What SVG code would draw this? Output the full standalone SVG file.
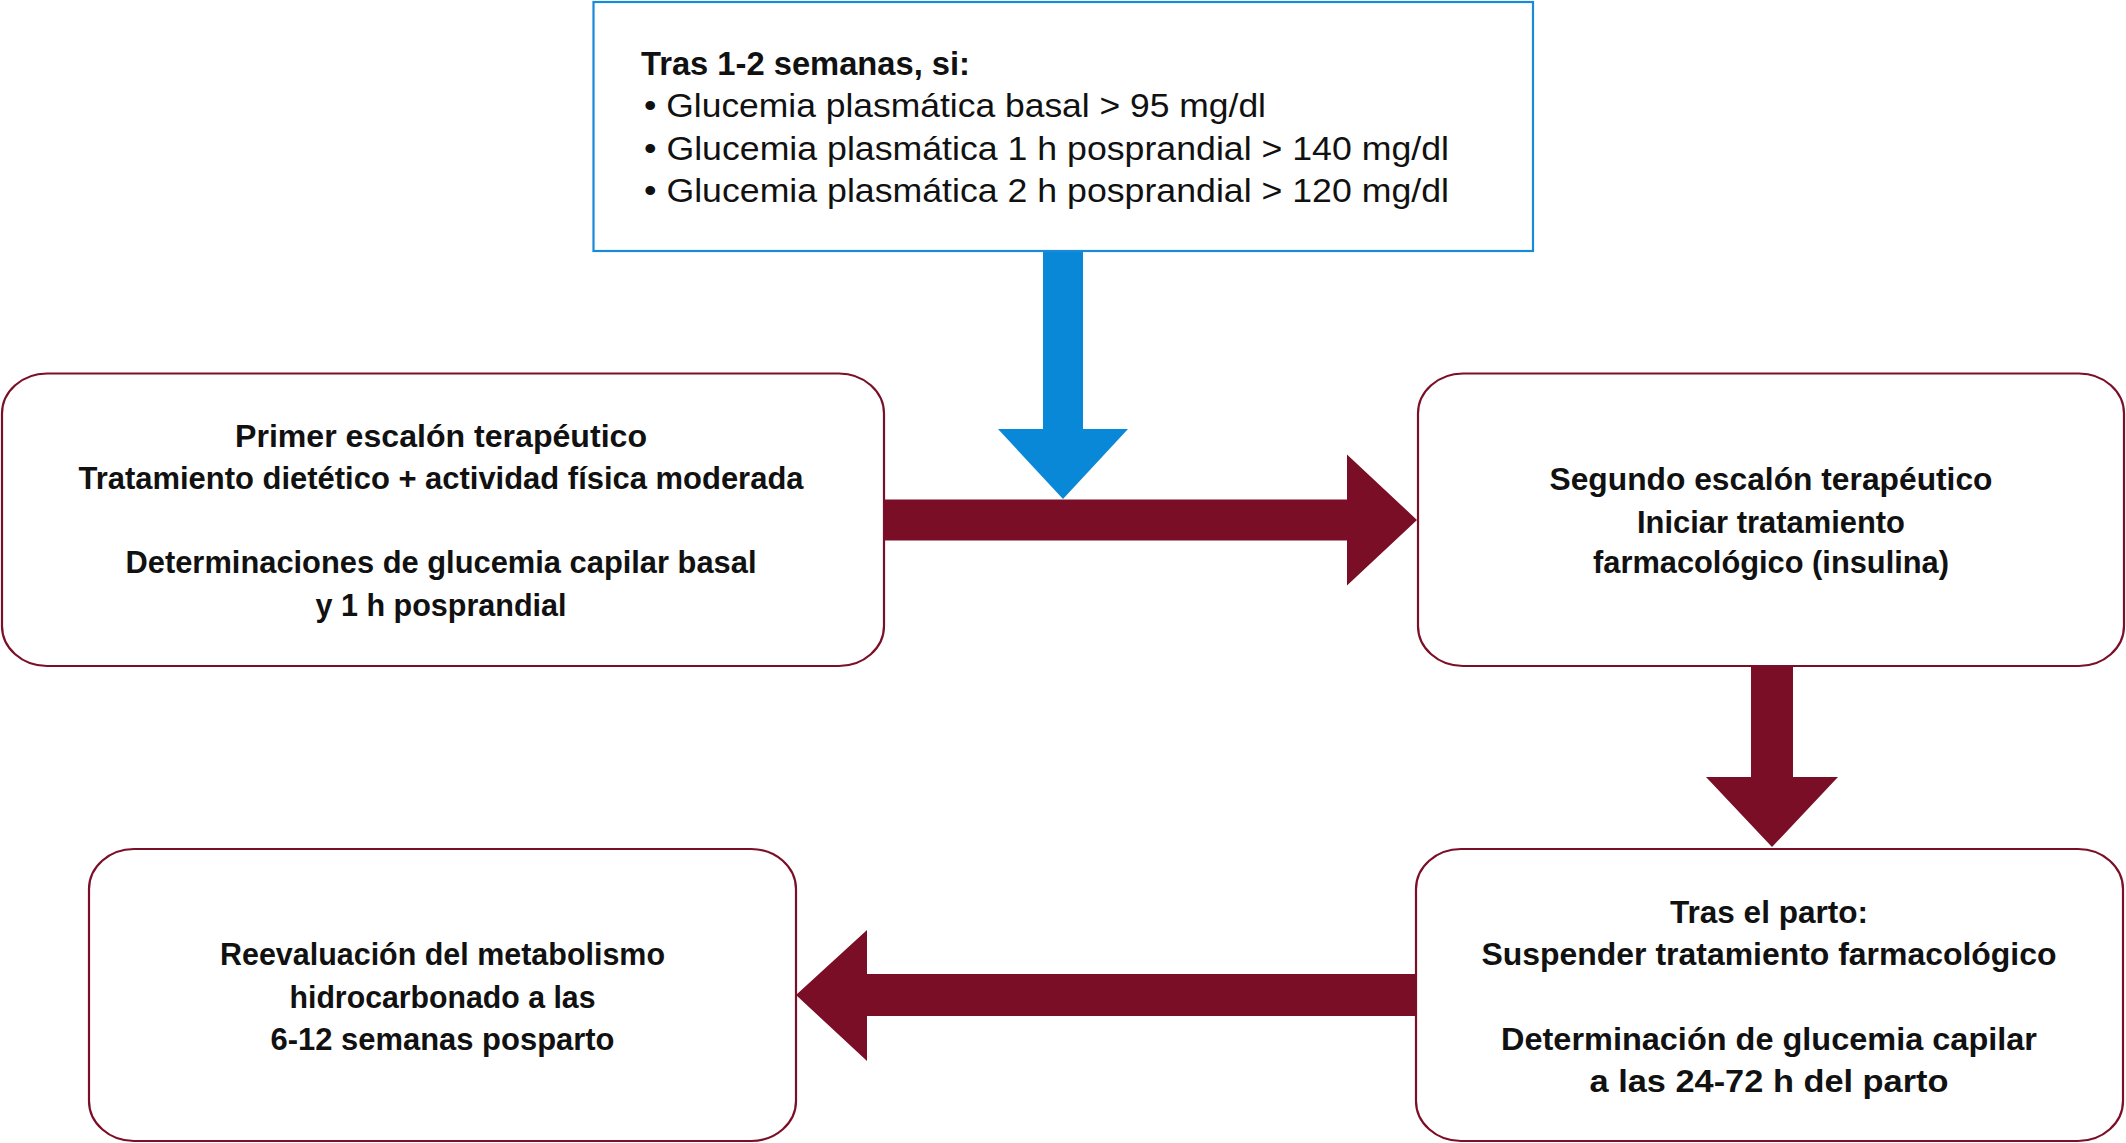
<svg xmlns="http://www.w3.org/2000/svg" width="2126" height="1143" viewBox="0 0 2126 1143">
<style>
.bg{fill:#ffffff}
.node{fill:#ffffff;stroke:#7b0f27;stroke-width:2.2}
.topbox{fill:#ffffff;stroke:#1a8ad8;stroke-width:2.2}
.t{font-family:"Liberation Sans","Arial",sans-serif;font-size:32px;font-weight:bold;fill:#111111;text-anchor:middle}
.tl{font-family:"Liberation Sans","Arial",sans-serif;font-size:33px;fill:#111111}
.tb{font-family:"Liberation Sans","Arial",sans-serif;font-size:33px;font-weight:bold;fill:#111111}
.red{fill:#7a0e26}
.blue{fill:#0a88d8}
</style>
<rect class="bg" x="0" y="0" width="2126" height="1143"/>

<g id="connectors">
  <polygon class="blue" points="1043,251 1083,251 1083,429 1128,429 1063,499 998,429 1043,429"/>
  <polygon class="red" points="884,499.5 1347,499.5 1347,454.5 1417,520 1347,585.5 1347,540.5 884,540.5"/>
  <polygon class="red" points="1751,666 1793,666 1793,777 1838,777 1772,847 1706,777 1751,777"/>
  <polygon class="red" points="1416,974 867,974 867,930 796,995 867,1061 867,1016 1416,1016"/>
</g>

<g id="node-criterios">
  <rect class="topbox" x="593.5" y="2" width="939.5" height="249"/>
  <text class="tb" x="641" y="75" textLength="329" lengthAdjust="spacingAndGlyphs">Tras 1-2 semanas, si:</text>
  <text class="tl" x="644" y="117" textLength="622" lengthAdjust="spacingAndGlyphs">• Glucemia plasmática basal &gt; 95 mg/dl</text>
  <text class="tl" x="644" y="160" textLength="805" lengthAdjust="spacingAndGlyphs">• Glucemia plasmática 1 h posprandial &gt; 140 mg/dl</text>
  <text class="tl" x="644" y="202" textLength="805" lengthAdjust="spacingAndGlyphs">• Glucemia plasmática 2 h posprandial &gt; 120 mg/dl</text>
</g>

<g id="node-primer">
  <rect class="node" x="2" y="373.5" width="882" height="292.5" rx="45" ry="40"/>
  <text class="t" x="441" y="447" textLength="412" lengthAdjust="spacingAndGlyphs">Primer escalón terapéutico</text>
  <text class="t" x="441" y="489" textLength="725" lengthAdjust="spacingAndGlyphs">Tratamiento dietético + actividad física moderada</text>
  <text class="t" x="441" y="573" textLength="631" lengthAdjust="spacingAndGlyphs">Determinaciones de glucemia capilar basal</text>
  <text class="t" x="441" y="616" textLength="251" lengthAdjust="spacingAndGlyphs">y 1 h posprandial</text>
</g>

<g id="node-segundo">
  <rect class="node" x="1418" y="373.5" width="706" height="292.5" rx="45" ry="40"/>
  <text class="t" x="1771" y="490" textLength="443" lengthAdjust="spacingAndGlyphs">Segundo escalón terapéutico</text>
  <text class="t" x="1771" y="532.5" textLength="268" lengthAdjust="spacingAndGlyphs">Iniciar tratamiento</text>
  <text class="t" x="1771" y="573" textLength="356" lengthAdjust="spacingAndGlyphs">farmacológico (insulina)</text>
</g>

<g id="node-parto">
  <rect class="node" x="1416" y="849" width="707" height="292" rx="45" ry="40"/>
  <text class="t" x="1769" y="922.5" textLength="198" lengthAdjust="spacingAndGlyphs">Tras el parto:</text>
  <text class="t" x="1769" y="965" textLength="575" lengthAdjust="spacingAndGlyphs">Suspender tratamiento farmacológico</text>
  <text class="t" x="1769" y="1050" textLength="536" lengthAdjust="spacingAndGlyphs">Determinación de glucemia capilar</text>
  <text class="t" x="1769" y="1092" textLength="359" lengthAdjust="spacingAndGlyphs">a las 24-72 h del parto</text>
</g>

<g id="node-reevaluacion">
  <rect class="node" x="89" y="849" width="707" height="292" rx="45" ry="40"/>
  <text class="t" x="442.5" y="965" textLength="445" lengthAdjust="spacingAndGlyphs">Reevaluación del metabolismo</text>
  <text class="t" x="442.5" y="1007.5" textLength="306" lengthAdjust="spacingAndGlyphs">hidrocarbonado a las</text>
  <text class="t" x="442.5" y="1050" textLength="344" lengthAdjust="spacingAndGlyphs">6-12 semanas posparto</text>
</g>
</svg>
